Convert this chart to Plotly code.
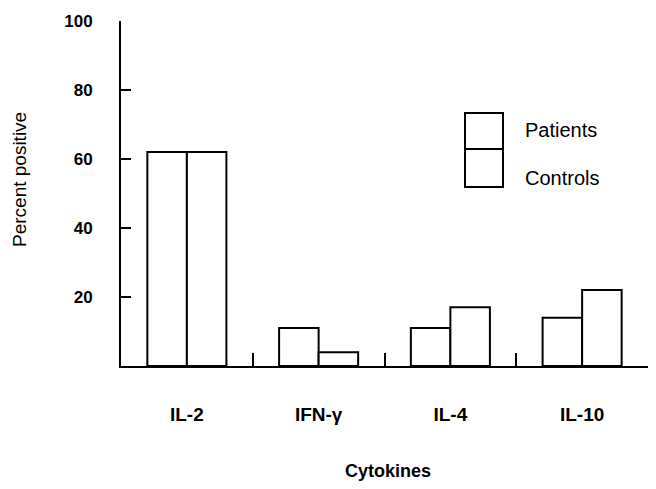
import plotly.graph_objects as go

categories = ["IL-2", "IFN-γ", "IL-4", "IL-10"]
patients = [62, 11, 11, 14]
controls = [62, 4, 17, 22]
y_ticks = [20, 40, 60, 80, 100]

FONT = "Arial, Liberation Sans, sans-serif"
x_pos = list(range(len(categories)))
dividers = [i + 0.5 for i in range(len(categories) - 1)]

W, H = 640, 473          # page body has an 8px margin in a 656x489 window
L, R, T, B = 113, 0, 13, 115
PW, PH = W - L - R, H - T - B


def px(x):  # figure pixel -> paper x
    return (x - L) / PW


def py(y):  # figure pixel -> paper y
    return (H - B - y) / PH


fig = go.Figure()
fig.add_trace(go.Bar(x=x_pos, y=patients, name="Patients",
                     marker=dict(color="white", line=dict(color="black", width=2))))
fig.add_trace(go.Bar(x=x_pos, y=controls, name="Controls",
                     marker=dict(color="white", line=dict(color="black", width=2))))

fig.update_layout(
    width=W, height=H,
    margin=dict(l=L, r=R, t=T, b=B, autoexpand=False),
    paper_bgcolor="white", plot_bgcolor="white",
    barmode="group", bargap=0.4, bargroupgap=0,
    showlegend=False,
    font=dict(family=FONT, color="black"),
)
fig.update_xaxes(
    type="linear", range=[-0.5, 3.5],
    tickmode="array", tickvals=x_pos, ticktext=categories,
    ticks="", showgrid=False, zeroline=False,
    showline=True, linecolor="black", linewidth=2,
    tickfont=dict(size=19, family=FONT, weight="bold"),
    ticklabelstandoff=30,
    minor=dict(tickmode="array", tickvals=dividers, ticks="inside",
               ticklen=13, tickwidth=2, tickcolor="black", showgrid=False),
)
fig.update_yaxes(
    range=[0, 100], tickmode="array", tickvals=y_ticks,
    ticks="inside", ticklen=10, tickwidth=1.5, tickcolor="black",
    showgrid=False, zeroline=False,
    showline=True, linecolor="black", linewidth=2,
    tickfont=dict(size=17, family=FONT, weight="bold"),
    ticklabelstandoff=23,
)

# Legend drawn as two stacked boxes with labels
fig.add_shape(type="rect", xref="paper", yref="paper",
              x0=px(457), x1=px(495), y0=py(141), y1=py(105),
              line=dict(color="black", width=2), fillcolor="white")
fig.add_shape(type="rect", xref="paper", yref="paper",
              x0=px(457), x1=px(495), y0=py(179), y1=py(141),
              line=dict(color="black", width=2), fillcolor="white")
fig.add_annotation(text="Patients", xref="paper", yref="paper",
                   x=px(515), y=py(122), xanchor="left", yanchor="middle",
                   showarrow=False, font=dict(size=20, family=FONT))
fig.add_annotation(text="Controls", xref="paper", yref="paper",
                   x=px(515), y=py(170), xanchor="left", yanchor="middle",
                   showarrow=False, font=dict(size=20, family=FONT))

# Axis titles
fig.add_annotation(text="Cytokines", xref="paper", yref="paper",
                   x=px(380), y=py(463), xanchor="center", yanchor="middle",
                   showarrow=False, font=dict(size=18, family=FONT, weight="bold"))
fig.add_annotation(text="Percent positive", xref="paper", yref="paper",
                   x=px(11), y=py(172), xanchor="center", yanchor="middle",
                   textangle=-90, showarrow=False, font=dict(size=19, family=FONT))

fig.write_html("out.html")
